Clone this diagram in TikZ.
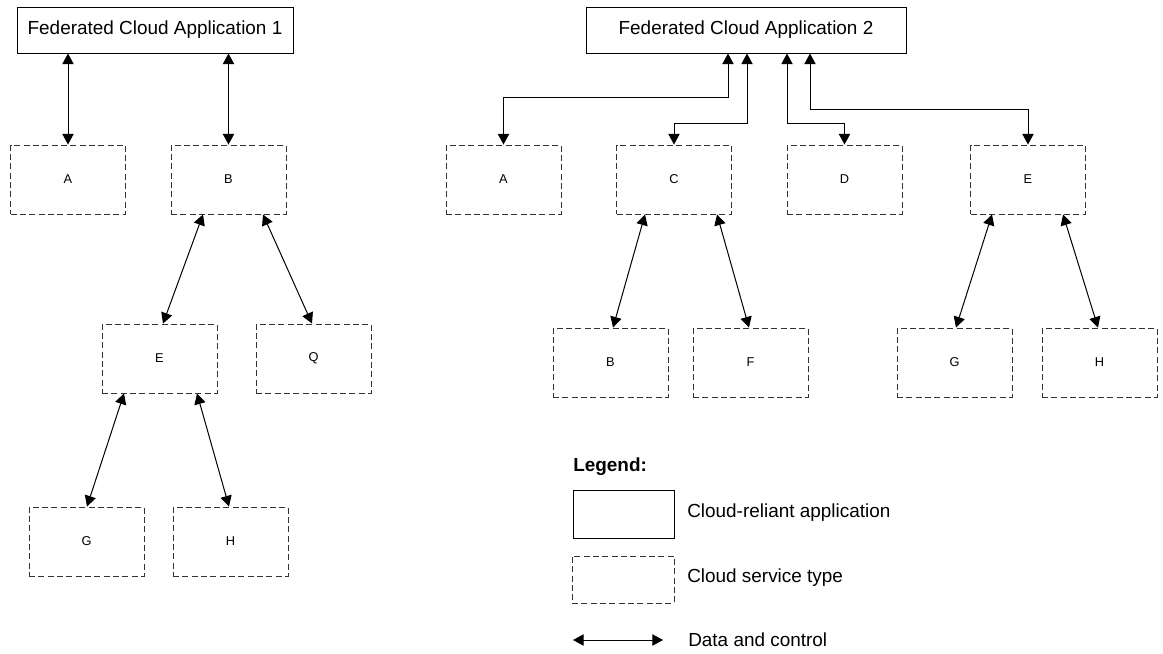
\documentclass[tikz,border=0pt]{standalone}
\usepackage{fontspec}
\setmainfont{Liberation Sans}
\usetikzlibrary{arrows.meta,calc}

\tikzset{
  appbox/.style={draw=black, line width=0.75pt, inner sep=0pt,
    minimum height=34.5pt, font=\fontsize{14.2}{16}\selectfont},
  svcbox/.style={draw=black!80, line width=0.7pt, dash pattern=on 4.5pt off 2.5pt,
    inner sep=0pt, minimum width=86.25pt, minimum height=51.75pt,
    font=\fontsize{9.6}{11}\selectfont},
  legtext/.style={anchor=west, inner sep=0pt, font=\fontsize{14.2}{16}\selectfont},
  link/.style={line width=0.75pt, {Triangle[length=8pt,width=8.5pt]}-{Triangle[length=8pt,width=8.5pt]}},
}

\begin{document}
\begin{tikzpicture}[x=0.75pt, y=-0.75pt]
\useasboundingbox (0,0) rectangle (1163,653);

% ---- Federated Cloud Application 1 ----
\node[appbox, minimum width=207pt] (fa) at (155,30) {Federated Cloud Application 1};
\node[svcbox] (la) at (68,179.5) {A};
\node[svcbox] (lb) at (228.5,179.5) {B};
\node[svcbox] (le) at (159.5,358.5) {E};
\node[svcbox] (lq) at (313.5,358.5) {Q};
\node[svcbox] (lg) at (86.5,541.5) {G};
\node[svcbox] (lh) at (230.5,541.5) {H};

\draw[link] (fa.south -| la) -- (la.north);
\draw[link] (fa.south -| lb) -- (lb.north);
\draw[link] ($(lb.south)+(-25.5,0)$) -- ($(le.north)+(3.5,0)$);
\draw[link] ($(lb.south)+(34.5,0)$) -- ($(lq.north)+(-1.5,0)$);
\draw[link] ($(le.south)+(-35.5,0)$) -- ($(lg.north)+(0.5,0)$);
\draw[link] ($(le.south)+(37.5,0)$) -- ($(lh.north)+(-1.5,0)$);

% ---- Federated Cloud Application 2 ----
\node[appbox, minimum width=240pt] (fb) at (746,30) {Federated Cloud Application 2};
\node[svcbox] (ra) at (503.5,179.5) {A};
\node[svcbox] (rc) at (674,179.5) {C};
\node[svcbox] (rd) at (844.5,179.5) {D};
\node[svcbox] (re) at (1028,179.5) {E};
\node[svcbox] (rb) at (610.5,362.5) {B};
\node[svcbox] (rf) at (750.5,362.5) {F};
\node[svcbox] (rg) at (954.5,362.5) {G};
\node[svcbox] (rh) at (1099.5,362.5) {H};

\draw[link] ($(fb.south)+(-18,0)$) -- ++(0,44) -| (ra.north);
\draw[link] ($(fb.south)+(1,0)$) -- ++(0,70) -| (rc.north);
\draw[link] ($(fb.south)+(41,0)$) -- ++(0,70) -| (rd.north);
\draw[link] ($(fb.south)+(64,0)$) -- ++(0,56) -| (re.north);

\draw[link] ($(rc.south)+(-29,0)$) -- ($(rb.north)+(2.5,0)$);
\draw[link] ($(rc.south)+(43,0)$) -- ($(rf.north)+(-1.5,0)$);
\draw[link] ($(re.south)+(-36,0)$) -- ($(rg.north)+(1.5,0)$);
\draw[link] ($(re.south)+(35,0)$) -- ($(rh.north)+(-1.5,0)$);

% ---- Legend ----
\node[legtext, font=\fontsize{14.2}{16}\selectfont\bfseries] (legtitle) at (573,467) {Legend:};
\node[draw=black, line width=0.75pt, minimum width=75.75pt, minimum height=36pt, inner sep=0pt] (legapp) at (623.5,514) {};
\node[legtext] (legapptext) at (687,513) {Cloud-reliant application};
\node[svcbox, minimum width=76.5pt, minimum height=35.25pt] (legsvc) at (623,579.5) {};
\node[legtext] (legsvctext) at (687,578) {Cloud service type};
\coordinate (legl) at (573,640);
\coordinate (legr) at (663,640);
\draw[link] (legl) -- (legr);
\node[legtext] (leglinktext) at (688,640) {Data and control};
\end{tikzpicture}
\end{document}
